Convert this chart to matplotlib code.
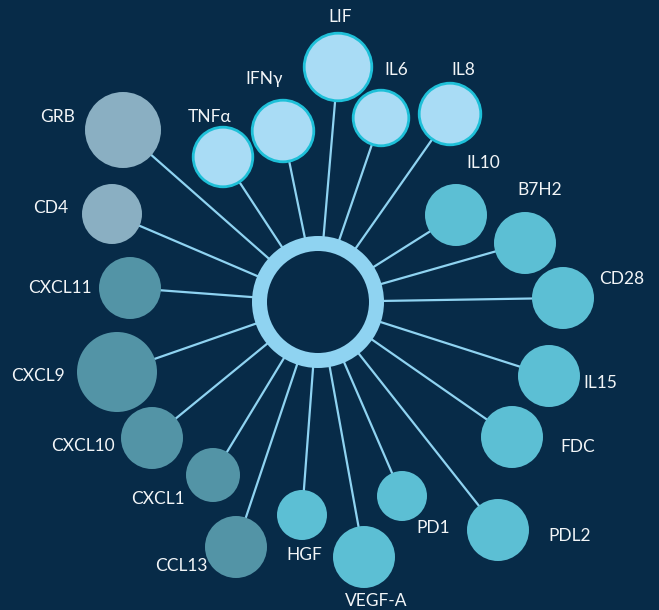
import matplotlib
matplotlib.use("Agg")
import matplotlib.pyplot as plt
from matplotlib.patches import Circle

# node data: name, centre (px), radius (px), group
names = ["LIF", "IL6", "IL8", "IFNγ", "TNFα", "GRB", "CD4", "CXCL11", "CXCL9",
         "CXCL10", "CXCL1", "CCL13", "HGF", "VEGF-A", "PD1", "PDL2", "FDC",
         "IL15", "CD28", "B7H2", "IL10"]
node_x = [338, 381, 450, 283, 223, 123, 112, 130, 117, 152, 213, 236, 302, 364,
          402, 498, 512, 549, 563, 525, 456]
node_y = [67, 118, 114, 131, 157, 130, 214, 288, 372, 438, 475, 547, 515, 557,
          496, 530, 437, 376, 298, 243, 215]
node_r = [35, 29, 32, 32, 31, 38, 30, 31, 40, 31, 27, 31, 25, 31, 25, 31, 31,
          31, 31, 31, 31]
group = ["cyto"] * 5 + ["grey"] * 2 + ["chemo"] * 5 + ["teal"] * 9

# label anchor points
label_x = [340, 396, 463, 264, 210, 58, 51, 60, 38, 83, 158, 181, 304, 376,
           433, 570, 578, 600, 622, 540, 483]
label_y = [17, 70, 70, 79, 117, 117, 208, 288, 376, 446, 499, 566, 555, 601,
           528, 536, 447, 383, 279, 190, 163]

center = (318, 302)

bg = "#072b48"
line_col = "#8fd3f1"
fills = {"cyto": "#a9dcf5", "grey": "#8aafc2", "chemo": "#5394a6", "teal": "#5cbfd4"}

fig = plt.figure(figsize=(6.59, 6.10), dpi=100)
fig.patch.set_facecolor(bg)
ax = fig.add_axes([0, 0, 1, 1])
ax.set_facecolor(bg)
ax.set_xlim(0, 659)
ax.set_ylim(610, 0)
ax.set_aspect("equal")
ax.axis("off")

for i in range(len(names)):
    # spoke from the hub to the node
    ax.plot([center[0], node_x[i]], [center[1], node_y[i]], color=line_col,
            lw=1.6, zorder=1, solid_capstyle="butt")
    if group[i] == "cyto":
        c = Circle((node_x[i], node_y[i]), node_r[i] - 1.2, facecolor=fills["cyto"],
                   edgecolor="#1ec0d8", lw=2.0, zorder=3)
    else:
        c = Circle((node_x[i], node_y[i]), node_r[i], facecolor=fills[group[i]],
                   edgecolor="none", zorder=3)
    ax.add_patch(c)
    ax.text(label_x[i], label_y[i], names[i], color="#f2f5f7", fontsize=12.5,
            family=["Lato", "DejaVu Sans"], ha="center", va="center", zorder=4)

# central ring
ax.add_patch(Circle(center, 66, facecolor=line_col, edgecolor="none", zorder=2))
ax.add_patch(Circle(center, 51, facecolor=bg, edgecolor="none", zorder=2))

plt.savefig("out.png", dpi=100, facecolor=bg)
